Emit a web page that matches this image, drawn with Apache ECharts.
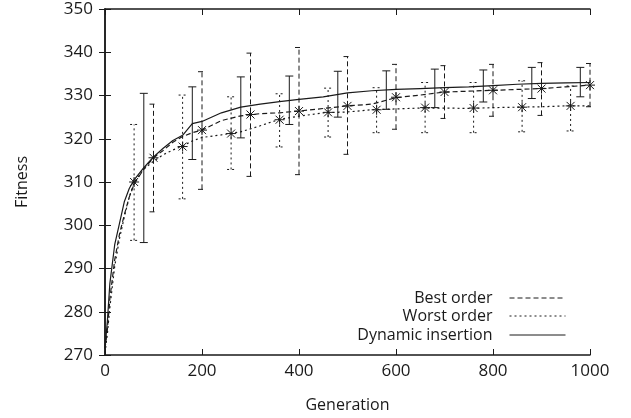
<!DOCTYPE html>
<html>
<head>
<meta charset="utf-8">
<script src="https://cdn.jsdelivr.net/npm/echarts@6/dist/echarts.min.js"></script>
<style>
  html, body { margin: 0; padding: 0; background: #fff; }
  #container { width: 631px; height: 418px; }
</style>
</head>
<body>
<div id="container"></div>
<script>
var dom = document.getElementById("container");
var myChart = echarts.init(dom);

// generations where the mean curves were read
var gens = [0, 5, 10, 20, 30, 40, 50, 60, 80, 100, 120, 140, 160, 180, 200, 240, 280, 320,
    360, 400, 450, 500, 550, 600, 650, 700, 750, 800, 850, 900, 950, 1000];

var bestLine = [271.5, 276, 283, 292, 298, 302.5, 306.5, 309.5, 313, 315.6, 317.3, 319.2, 320.5, 321.4, 322.0,
    324.2, 325.3, 325.8, 326.0, 326.4, 327.0, 327.6, 328.0, 329.5, 330.1, 330.8, 331.0, 331.2, 331.4, 331.6, 332.0, 332.4];
var worstLine = [270.5, 275, 281, 290.5, 297, 302, 306.5, 309.9, 313, 314.8, 316.3, 317.4, 318.3, 319.5, 320.3,
    320.9, 321.6, 323.0, 324.5, 325.2, 326.0, 326.2, 326.7, 326.9, 327.1, 327.1, 327.0, 327.2, 327.3, 327.4, 327.6, 327.6];
var dynLine = [271.5, 278, 286.5, 295.5, 300.5, 305.5, 308.5, 310.5, 313.3, 315.8, 317.8, 319.6, 320.8, 323.5, 324.0,
    326.0, 327.3, 328.0, 328.6, 329.1, 329.7, 330.6, 331.1, 331.4, 331.6, 331.8, 332.0, 332.3, 332.6, 332.8, 332.9, 333.0];

// error bars: generation, low, high, marker
var bestBarX = [100, 200, 300, 400, 500, 600, 700, 800, 900, 1000];
var bestLow = [303.1, 308.3, 311.3, 311.7, 316.4, 322.2, 324.7, 325.2, 325.4, 327.4];
var bestHigh = [328.0, 335.5, 339.8, 341.1, 339.0, 337.2, 336.9, 337.2, 337.6, 337.4];
var bestMark = [315.6, 322.0, 325.6, 326.4, 327.6, 329.6, 330.8, 331.2, 331.6, 332.4];

var worstBarX = [60, 160, 260, 360, 460, 560, 660, 760, 860, 960];
var worstLow = [296.5, 306.1, 312.9, 318.1, 320.4, 321.4, 321.4, 321.4, 321.6, 321.8];
var worstHigh = [323.3, 330.1, 329.7, 330.4, 331.7, 331.8, 333.0, 333.0, 333.4, 332.2];
var worstMark = [310.0, 318.2, 321.2, 324.4, 326.1, 326.7, 327.2, 327.1, 327.3, 327.6];

var dynBarX = [80, 180, 280, 380, 480, 580, 680, 780, 880, 980];
var dynLow = [296.0, 315.2, 320.2, 323.3, 325.0, 326.8, 327.2, 328.5, 329.3, 329.7];
var dynHigh = [330.5, 332.0, 334.3, 334.5, 335.6, 335.7, 336.1, 335.9, 336.5, 336.5];

var seriesNames = ['Best order', 'Worst order', 'Dynamic insertion'];
var dashBest = [5, 3];
var dashWorst = [2, 3];
var ink = '#1a1a1a';
var font = 'Open Sans';

function pairs(xs, ys) {
    var out = [];
    for (var i = 0; i < xs.length; i++) out.push([xs[i], ys[i]]);
    return out;
}
function bars(xs, lo, hi, mk) {
    var out = [];
    for (var i = 0; i < xs.length; i++) out.push([xs[i], lo[i], hi[i], mk ? mk[i] : null]);
    return out;
}

function barRenderer(dash) {
    return function (params, api) {
        var x = api.value(0);
        var p1 = api.coord([x, api.value(1)]);
        var p2 = api.coord([x, api.value(2)]);
        var st = { stroke: ink, lineWidth: 1, lineDash: dash };
        var cw = 4;
        var kids = [
            { type: 'line', shape: { x1: p1[0], y1: p1[1], x2: p2[0], y2: p2[1] }, style: st },
            { type: 'line', shape: { x1: p1[0] - cw, y1: p1[1], x2: p1[0] + cw, y2: p1[1] }, style: st },
            { type: 'line', shape: { x1: p2[0] - cw, y1: p2[1], x2: p2[0] + cw, y2: p2[1] }, style: st }
        ];
        var m = api.value(3);
        if (m != null && !isNaN(m)) {
            var c = api.coord([x, m]);
            var r = 5, d = 4;
            var ms = { stroke: ink, lineWidth: 1 };
            kids.push({ type: 'line', shape: { x1: c[0], y1: c[1] - r, x2: c[0], y2: c[1] + r }, style: ms });
            kids.push({ type: 'line', shape: { x1: c[0] - r, y1: c[1], x2: c[0] + r, y2: c[1] }, style: ms });
            kids.push({ type: 'line', shape: { x1: c[0] - d, y1: c[1] - d, x2: c[0] + d, y2: c[1] + d }, style: ms });
            kids.push({ type: 'line', shape: { x1: c[0] - d, y1: c[1] + d, x2: c[0] + d, y2: c[1] - d }, style: ms });
        }
        return { type: 'group', children: kids };
    };
}

var axisLine = { show: true, lineStyle: { color: ink, width: 1.5 } };
var tick = { show: true, inside: true, length: 6, lineStyle: { color: ink, width: 1 } };
var label = { color: ink, fontFamily: font, fontSize: 17, formatter: function (v) { return String(v); } };

function legendFor(name, top) {
    return {
        data: [name],
        right: 60,
        top: top,
        orient: 'vertical',
        align: 'right',
        itemWidth: 56,
        itemHeight: 14,
        itemStyle: { opacity: 0 },
        lineStyle: { width: 1 },
        textStyle: { color: ink, fontFamily: font, fontSize: 16, padding: [0, 12, 0, 0] }
    };
}

var option = {
    animation: false,
    backgroundColor: '#fff',
    grid: { left: 105, right: 41, top: 9, bottom: 63 },
    legend: [legendFor(seriesNames[0], 285), legendFor(seriesNames[1], 303), legendFor(seriesNames[2], 322)],
    xAxis: [{
        type: 'value', min: 0, max: 1000, interval: 200,
        name: 'Generation', nameLocation: 'middle', nameGap: 42,
        nameTextStyle: { color: ink, fontFamily: font, fontSize: 16 },
        axisLine: axisLine, axisTick: tick, splitLine: { show: false },
        axisLabel: Object.assign({ margin: 8 }, label)
    }, {
        type: 'value', min: 0, max: 1000, interval: 200, position: 'top',
        axisLine: axisLine, axisTick: tick, splitLine: { show: false }, axisLabel: { show: false }
    }],
    yAxis: [{
        type: 'value', min: 270, max: 350, interval: 10,
        name: 'Fitness', nameLocation: 'middle', nameGap: 75,
        nameTextStyle: { color: ink, fontFamily: font, fontSize: 16 },
        axisLine: axisLine, axisTick: tick, splitLine: { show: false },
        axisLabel: Object.assign({ margin: 12 }, label)
    }, {
        type: 'value', min: 270, max: 350, interval: 10, position: 'right',
        axisLine: axisLine, axisTick: tick, splitLine: { show: false }, axisLabel: { show: false }
    }],
    series: [{
        name: seriesNames[0], type: 'line', data: pairs(gens, bestLine),
        symbol: 'none', color: ink, lineStyle: { color: ink, width: 1.2, type: dashBest }
    }, {
        name: seriesNames[1], type: 'line', data: pairs(gens, worstLine),
        symbol: 'none', color: ink, lineStyle: { color: ink, width: 1.2, type: dashWorst }
    }, {
        name: seriesNames[2], type: 'line', data: pairs(gens, dynLine),
        symbol: 'none', color: ink, lineStyle: { color: ink, width: 1.2, type: 'solid' }
    }, {
        type: 'custom', data: bars(bestBarX, bestLow, bestHigh, bestMark),
        renderItem: barRenderer(dashBest), clip: false, encode: { x: 0, y: [1, 2] }
    }, {
        type: 'custom', data: bars(worstBarX, worstLow, worstHigh, worstMark),
        renderItem: barRenderer(dashWorst), clip: false, encode: { x: 0, y: [1, 2] }
    }, {
        type: 'custom', data: bars(dynBarX, dynLow, dynHigh, null),
        renderItem: barRenderer(null), clip: false, encode: { x: 0, y: [1, 2] }
    }]
};

if (option && typeof option === 'object') {
    myChart.setOption(option);
}
</script>
</body>
</html>
